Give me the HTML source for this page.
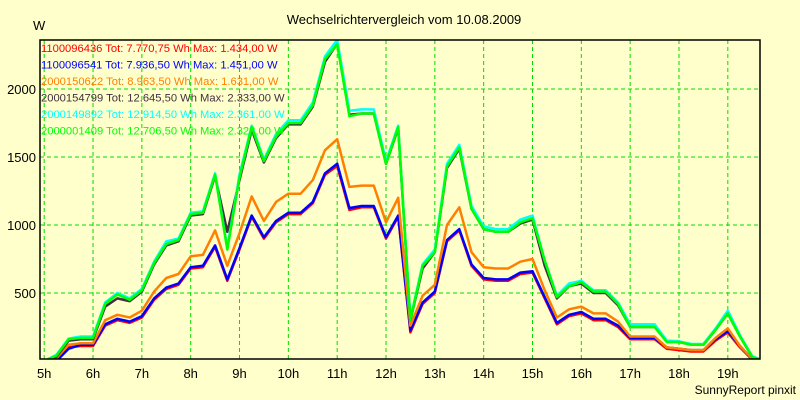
<!DOCTYPE html>
<html><head><meta charset="utf-8"><style>
body{margin:0;background:#ffffcc;}
svg{display:block;font-family:"Liberation Sans",sans-serif;}
</style></head><body>
<svg id="chart" width="800" height="400">
<rect x="0" y="0" width="800" height="400" fill="#ffffcc"/>
<text x="404" y="24" text-anchor="middle" font-size="13" fill="#000">Wechselrichtervergleich vom 10.08.2009</text>
<text x="33" y="30" font-size="13" fill="#000">W</text>
<text x="796" y="394" text-anchor="end" font-size="12" fill="#000">SunnyReport pinxit</text>
<g id="grid"></g><g id="series"></g><g id="axes"></g><g id="legend"></g>
</svg>
<script>
const hours = [5,6,7,8,9,10,11,12,13,14,15,16,17,18,19];
const yTicks = [500,1000,1500,2000];
const startHour = 5, stepHour = 0.25;
const seriesNames = ["1100096436","1100096541","2000150622","2000154799","2000149892","2000001409"];
const legendTexts = ["Tot: 7.770,75 Wh Max: 1.434,00 W","Tot: 7.936,50 Wh Max: 1.451,00 W","Tot: 8.963,50 Wh Max: 1.631,00 W","Tot: 12.645,50 Wh Max: 2.333,00 W","Tot: 12.914,50 Wh Max: 2.361,00 W","Tot: 12.706,50 Wh Max: 2.328,00 W"];
const seriesColors = ["#ff0000","#0000ff","#ff8000","#403040","#00ffff","#00ff00"];
const red = [0,10,100,110,110,260,300,280,320,450,530,560,680,690,840,590,820,1060,900,1020,1080,1080,1160,1370,1434,1110,1130,1130,900,1060,210,420,500,880,960,700,600,590,590,640,650,460,270,330,350,300,300,250,160,160,160,90,80,70,70,150,210,100,10,0];
const blue = [0,0,90,120,120,270,310,290,330,460,540,570,690,700,850,600,830,1070,910,1030,1090,1090,1170,1380,1451,1125,1140,1140,910,1070,225,430,510,890,970,710,610,600,600,650,660,470,280,340,360,310,310,260,170,170,170,100,90,80,80,160,220,110,10,0];
const orange = [0,20,120,130,130,300,340,320,370,510,610,640,770,780,960,700,940,1210,1030,1170,1230,1230,1330,1550,1631,1280,1290,1290,1020,1200,260,480,560,1000,1130,800,690,680,680,730,750,520,320,380,400,350,350,290,180,180,180,100,90,80,80,170,240,110,15,0];
const gray = [0,30,150,160,160,400,460,440,510,710,850,880,1070,1080,1360,950,1330,1700,1460,1640,1740,1740,1870,2200,2333,1810,1820,1820,1450,1710,300,680,800,1420,1560,1120,970,950,950,1010,1040,700,460,550,570,500,500,410,250,250,250,145,140,120,120,230,350,180,30,0];
const cyan = [0,45,165,180,180,430,500,460,530,730,880,900,1090,1100,1380,830,1370,1730,1480,1670,1770,1770,1900,2240,2361,1840,1850,1850,1470,1730,310,710,820,1450,1590,1140,990,970,970,1040,1070,740,480,570,590,520,520,430,270,270,270,150,145,125,125,240,370,190,35,0];
const green = [0,40,160,170,170,420,490,450,520,720,860,890,1080,1090,1370,820,1350,1720,1470,1650,1750,1750,1880,2220,2328,1800,1820,1820,1450,1720,300,700,800,1430,1570,1120,970,950,950,1020,1050,740,470,550,580,510,510,420,250,250,250,140,140,120,120,230,350,180,30,0];
const allSeries = [red,blue,orange,gray,cyan,green];

const L=40,T=40,R=760,B=359;
const xScale = h => 44.2 + (h-5)*48.83;
const yScale = v => 361 - v*0.136;
const NS="http://www.w3.org/2000/svg";
function mk(tag, attrs, parent){const e=document.createElementNS(NS,tag);for(const k in attrs)e.setAttribute(k,attrs[k]);parent.appendChild(e);return e;}
const grid=document.getElementById('grid'),ser=document.getElementById('series'),axes=document.getElementById('axes'),leg=document.getElementById('legend');
hours.forEach(h=>{
  const x=xScale(h);
  const g=mk('line',{x1:x,x2:x,y1:T,y2:B,stroke:'#00dd00','stroke-width':1,'stroke-dasharray':'4,3'},grid);
  
  
  const t=mk('text',{x:x,y:378,'text-anchor':'middle','font-size':13,fill:'#000'},axes);
  t.textContent=h+'h';
  
  
});
yTicks.forEach(v=>{
  const y=yScale(v);
  const g=mk('line',{x1:L,x2:R,y1:y,y2:y,stroke:'#00dd00','stroke-width':1,'stroke-dasharray':'4,3'},grid);
  
  
  const t=mk('text',{x:36,y:y+5,'text-anchor':'end','font-size':13,fill:'#000'},axes);
  t.textContent=v;
  
  
});
allSeries.forEach((arr,i)=>{
  const pts=arr.map((v,j)=>xScale(startHour+j*stepHour).toFixed(1)+','+yScale(v).toFixed(1)).join(' ');
  const p=mk('polyline',{points:pts,fill:'none',stroke:seriesColors[i],'stroke-width':2.5,'stroke-linejoin':'round'},ser);
  
  
  const t=mk('text',{x:41,y:52+i*16.5,'font-size':11.2,fill:seriesColors[i]},leg);
  t.textContent=seriesNames[i]+' '+legendTexts[i];
  
  
});
const cp=mk('clipPath',{id:'clip'},document.getElementById('chart'));
mk('rect',{x:L,y:T,width:R-L,height:B-T},cp);
ser.setAttribute('clip-path','url(#clip)');
const frame=mk('rect',{x:L,y:T,width:R-L,height:B-T,fill:'none',stroke:'#000','stroke-width':1.5},axes);


</script>
</body></html>
